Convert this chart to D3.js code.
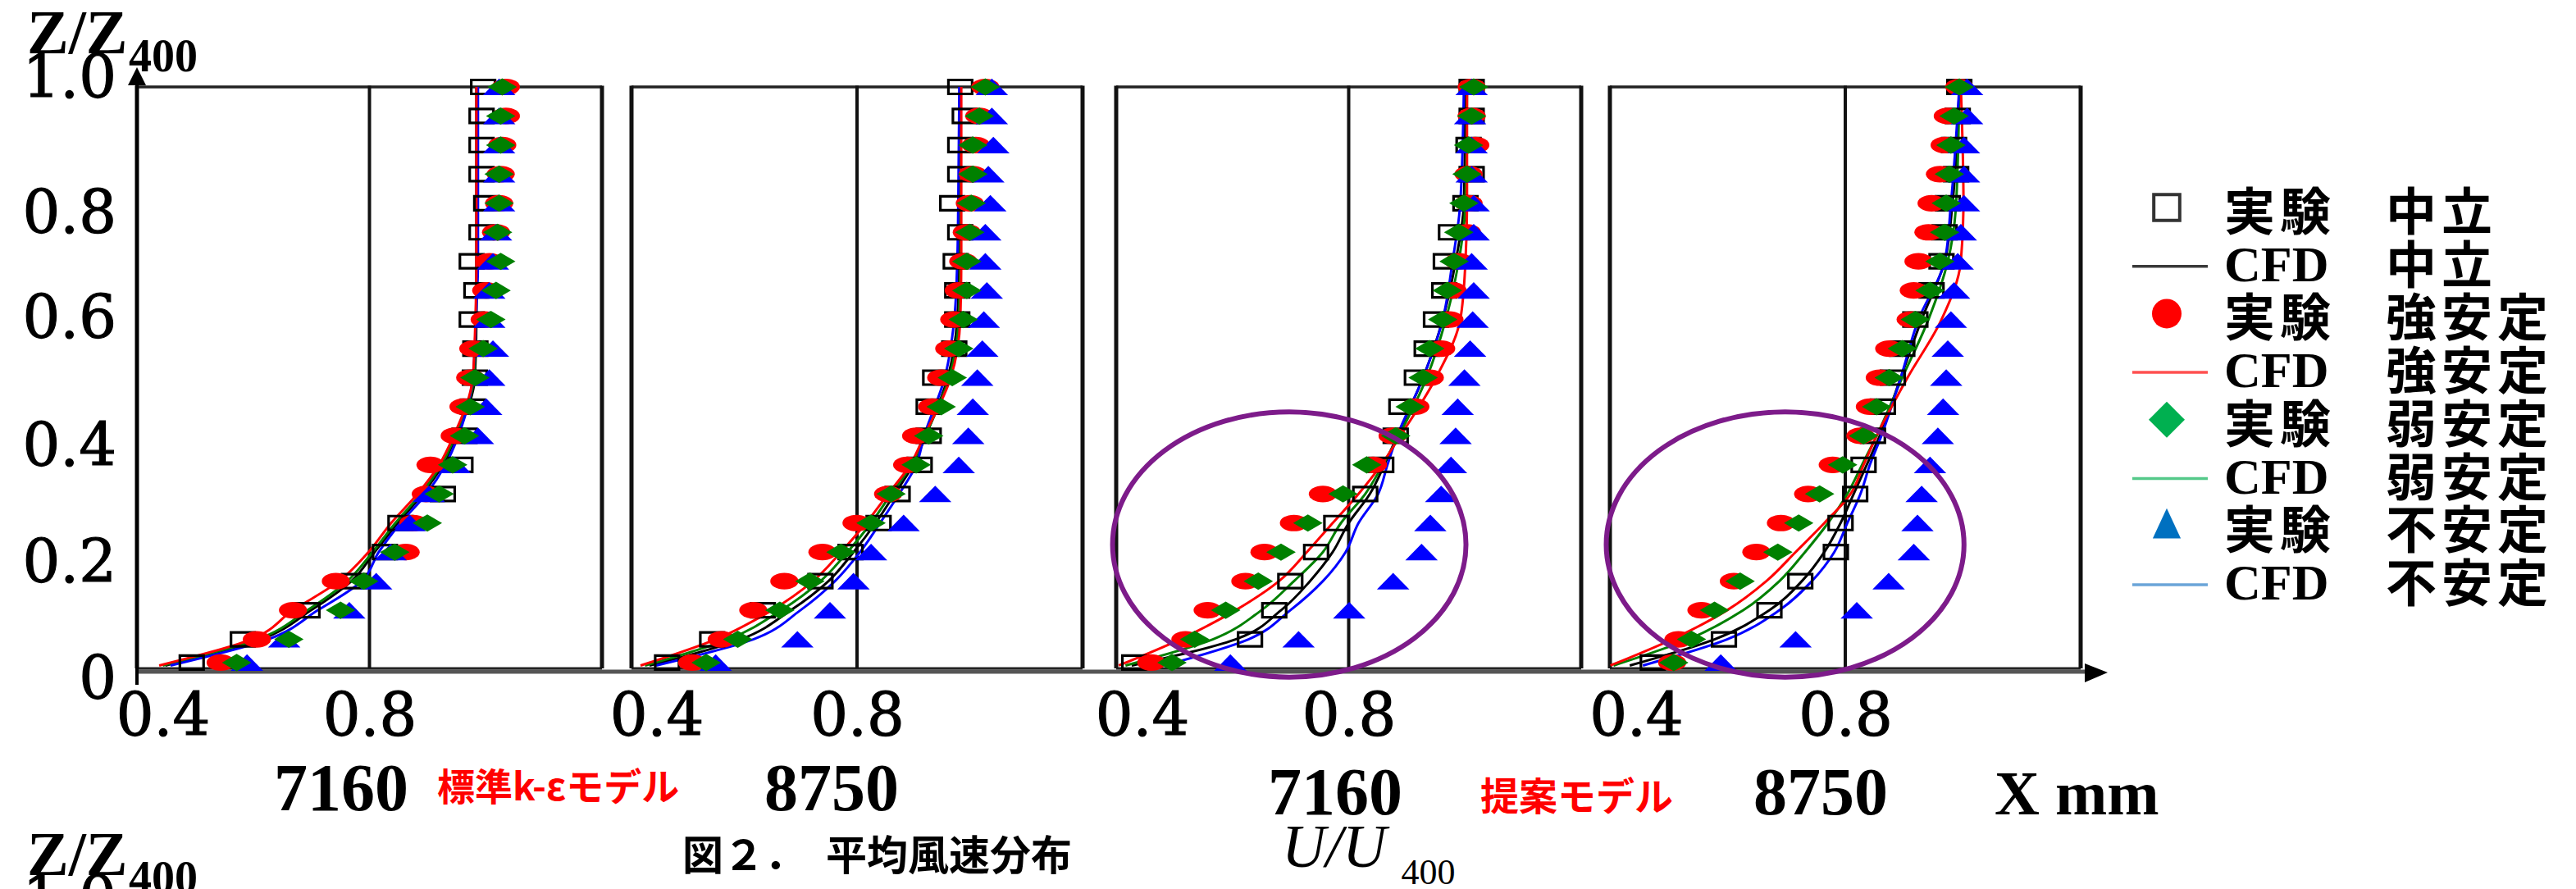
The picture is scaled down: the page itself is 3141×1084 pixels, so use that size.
<!DOCTYPE html>
<html>
<head>
<meta charset="utf-8">
<script src="https://cdn.jsdelivr.net/npm/d3@7"></script>
<style>
  body { margin: 0; background: #fff; }
  svg { display: block; }
  .serif { font-family: "Liberation Serif", "Times New Roman", serif; }
  .num { font-family: "DejaVu Serif", serif; stroke: #000; stroke-width: 1.2px; }
  .cjk { font-family: "Noto Sans CJK JP", sans-serif; font-weight: 700; }
</style>
</head>
<body>
<svg id="chart" width="3141" height="1084"></svg>
<script>
// measurement heights Z/Z400 (experiment rows) and CFD sample heights
const zExp = [1.0, 0.95, 0.9, 0.85, 0.8, 0.75, 0.7, 0.65, 0.6, 0.55, 0.5, 0.45, 0.4, 0.35, 0.3, 0.25, 0.2, 0.15, 0.1, 0.05, 0.01];
const zCfd = [1.0, 0.8, 0.7, 0.6, 0.5, 0.4, 0.35, 0.3, 0.25, 0.2, 0.15, 0.1, 0.05, 0.005];

const panelDistance = ["7160", "8750", "7160", "8750"];
const modelNames = ["標準k-εモデル", "提案モデル"];
const xTicks = [0.4, 0.8];
const yTicks = [0, 0.2, 0.4, 0.6, 0.8, 1.0];

// U/U400, one array per panel (7160 std, 8750 std, 7160 proposed, 8750 proposed)
const expNeutral = [
  [1.020,1.017,1.017,1.017,1.026,1.017,0.998,1.007,0.998,1.005,1.004,1.000,0.984,0.976,0.942,0.860,0.830,0.770,0.680,0.555,0.456],
  [1.006,1.015,1.006,1.006,0.990,1.006,0.997,1.000,1.000,0.994,0.956,0.943,0.943,0.925,0.881,0.843,0.787,0.727,0.612,0.511,0.421],
  [1.038,1.038,1.032,1.038,1.026,0.998,0.988,0.985,0.969,0.951,0.932,0.902,0.891,0.863,0.832,0.776,0.737,0.687,0.656,0.609,0.385],
  [1.018,1.015,1.008,1.012,0.996,0.990,0.984,0.965,0.934,0.909,0.891,0.872,0.853,0.835,0.819,0.791,0.782,0.714,0.655,0.568,0.432]
];
const expStrong = [
  [1.064,1.064,1.057,1.054,1.051,1.045,1.032,1.026,1.023,1.001,0.995,0.982,0.965,0.918,0.909,0.885,0.870,0.735,0.652,0.582,0.512],
  [1.056,1.044,1.037,1.031,1.025,1.019,1.012,1.003,0.994,0.984,0.968,0.950,0.918,0.900,0.862,0.799,0.731,0.655,0.593,0.530,0.471],
  [1.038,1.038,1.045,1.032,1.032,1.029,1.013,1.001,0.995,0.979,0.957,0.929,0.885,0.847,0.750,0.694,0.637,0.600,0.527,0.484,0.418],
  [1.018,0.996,0.990,0.981,0.965,0.959,0.940,0.931,0.925,0.884,0.866,0.847,0.829,0.776,0.729,0.677,0.630,0.587,0.525,0.481,0.469]
];
const expWeak = [
  [1.057,1.054,1.054,1.051,1.051,1.048,1.054,1.045,1.035,1.020,1.004,0.995,0.984,0.961,0.935,0.912,0.849,0.789,0.744,0.644,0.543],
  [1.056,1.044,1.031,1.031,1.028,1.025,1.019,1.019,1.012,1.003,0.990,0.968,0.943,0.918,0.868,0.828,0.768,0.706,0.646,0.562,0.499],
  [1.042,1.038,1.032,1.029,1.023,1.013,1.004,0.991,0.982,0.957,0.944,0.919,0.891,0.835,0.789,0.721,0.669,0.625,0.562,0.502,0.458],
  [1.018,1.008,1.002,0.999,0.993,0.990,0.981,0.962,0.934,0.909,0.884,0.860,0.835,0.795,0.751,0.711,0.671,0.599,0.550,0.506,0.472]
];
const expUnstable = [
  [1.051,1.051,1.051,1.051,1.051,1.045,1.039,1.032,1.032,1.039,1.032,1.026,1.010,0.965,0.915,0.878,0.841,0.813,0.761,0.635,0.563],
  [1.069,1.069,1.072,1.062,1.066,1.056,1.056,1.059,1.053,1.050,1.040,1.031,1.022,1.003,0.956,0.893,0.828,0.793,0.746,0.681,0.518],
  [1.038,1.035,1.038,1.038,1.042,1.042,1.038,1.042,1.040,1.035,1.024,1.011,1.007,0.998,0.979,0.958,0.941,0.886,0.801,0.703,0.571],
  [1.033,1.033,1.027,1.027,1.027,1.021,1.015,1.008,1.002,0.996,0.993,0.987,0.977,0.962,0.946,0.938,0.931,0.883,0.822,0.705,0.562]
];

const cfdNeutral = [
  [1.007,1.007,1.007,1.007,1.004,0.968,0.942,0.903,0.855,0.810,0.765,0.687,0.590,0.405],
  [1.006,1.006,1.004,1.000,0.981,0.937,0.912,0.875,0.837,0.793,0.743,0.668,0.568,0.386],
  [1.026,1.023,1.007,0.982,0.944,0.894,0.869,0.841,0.800,0.769,0.725,0.669,0.581,0.380],
  [1.018,1.005,0.990,0.946,0.906,0.866,0.841,0.816,0.791,0.760,0.717,0.655,0.550,0.388]
];
const cfdStrong = [
  [1.007,1.007,1.007,1.005,1.000,0.963,0.935,0.893,0.842,0.798,0.741,0.652,0.571,0.393],
  [1.008,1.008,1.008,1.006,0.987,0.934,0.906,0.862,0.818,0.768,0.712,0.630,0.518,0.368],
  [1.029,1.029,1.026,1.016,0.969,0.900,0.863,0.819,0.769,0.719,0.665,0.581,0.474,0.355],
  [1.021,1.026,1.021,0.984,0.919,0.860,0.835,0.810,0.760,0.705,0.649,0.574,0.469,0.351]
];
const cfdWeak = [
  [1.008,1.008,1.008,1.006,1.002,0.966,0.939,0.899,0.850,0.806,0.757,0.680,0.583,0.400],
  [1.007,1.007,1.006,1.003,0.984,0.936,0.909,0.868,0.828,0.781,0.727,0.649,0.543,0.377],
  [1.029,1.026,1.013,0.988,0.951,0.897,0.866,0.832,0.785,0.750,0.694,0.631,0.537,0.368],
  [1.018,1.012,0.996,0.959,0.909,0.860,0.832,0.804,0.767,0.723,0.674,0.605,0.500,0.357]
];
const cfdUnstable = [
  [1.010,1.010,1.010,1.006,1.000,0.972,0.947,0.910,0.860,0.818,0.785,0.700,0.604,0.415],
  [1.004,1.002,1.000,0.994,0.975,0.934,0.918,0.884,0.846,0.806,0.756,0.687,0.593,0.399],
  [1.023,1.016,1.001,0.982,0.944,0.894,0.875,0.857,0.819,0.794,0.750,0.687,0.606,0.443],
  [1.018,1.002,0.990,0.940,0.906,0.869,0.847,0.829,0.804,0.779,0.736,0.674,0.574,0.413]
];

// circled region (U/U400 centre, Z centre, half widths) for the proposed-model panels
const circleCentre = [0.685, 0.213];
const circleRadius = [0.342, 0.228];

const legendMethod = ["実験", "CFD", "実験", "CFD", "実験", "CFD", "実験", "CFD"];
const legendCond = ["中立", "中立", "強安定", "強安定", "弱安定", "弱安定", "不安定", "不安定"];

// ---- layout ----
const svg = d3.select("#chart");
const panelBox = [[167, 734], [770, 1320], [1361, 1928], [1963, 2537]];
const panelLabelX = [416, 1014, 1628, 2220];
const plotTop = 106, plotBottom = 815;
const y = d3.scaleLinear().domain([0, 1]).range([plotBottom, plotTop]);

const plotColor = { neutral: "#000", strong: "#ff0000", weak: "#008000", unstable: "#0000ff" };
const stretch = 1.7;  // markers in the figure are stretched sideways

const sym = {
  square: d3.symbol(d3.symbolSquare, 290)(),
  circle: d3.symbol(d3.symbolCircle, 320)(),
  diamond: d3.symbol(d3.symbolDiamond2, 285)(),
  triangle: d3.symbol(d3.symbolTriangle, 235)()
};

// x axis (shared, with arrow)
svg.append("line").attr("x1", 167).attr("x2", 2548).attr("y1", 819).attr("y2", 819)
  .attr("stroke", "#555").attr("stroke-width", 5);
svg.append("path").attr("d", "M2542,809 L2570,820 L2542,832 Z").attr("fill", "#000");

panelBox.forEach((b, i) => {
  const x = d3.scaleLinear().domain([0.35, 1.25]).range(b);
  const g = svg.append("g");

  // frame
  g.append("line").attr("x1", b[0]).attr("x2", b[1]).attr("y1", plotTop).attr("y2", plotTop)
    .attr("stroke", "#222").attr("stroke-width", 3.5);
  g.append("line").attr("x1", b[0]).attr("x2", b[1]).attr("y1", plotBottom).attr("y2", plotBottom)
    .attr("stroke", "#222").attr("stroke-width", 3);
  [b[0], x(0.8), b[1]].forEach((xx, k) => {
    g.append("line").attr("x1", xx).attr("x2", xx).attr("y1", plotTop - 1.5).attr("y2", plotBottom)
      .attr("stroke", "#111").attr("stroke-width", k === 1 ? 4 : 5);
  });

  // CFD lines
  const line = d3.line().x(d => x(d[0])).y(d => y(d[1])).curve(d3.curveMonotoneY);
  [["neutral", cfdNeutral], ["weak", cfdWeak], ["unstable", cfdUnstable], ["strong", cfdStrong]]
    .forEach(([k, arr]) => {
      g.append("path")
        .attr("d", line(arr[i].map((u, j) => [u, zCfd[j]])))
        .attr("fill", "none").attr("stroke", plotColor[k]).attr("stroke-width", 3);
    });

  // experiments
  const drawMarks = (arr, shape, k, hollow) => {
    const dy = shape === "triangle" ? 3.3 : 0;
    g.append("g").selectAll("path")
      .data(arr[i].map((u, j) => [u, zExp[j]]))
      .join("path")
      .attr("d", sym[shape])
      .attr("transform", d => `translate(${x(d[0])},${y(d[1]) + dy}) scale(${stretch},1)`)
      .attr("fill", hollow ? "none" : plotColor[k])
      .attr("stroke", hollow ? plotColor[k] : "none")
      .attr("stroke-width", hollow ? 3.2 : 0)
      .attr("vector-effect", "non-scaling-stroke");
  };
  drawMarks(expNeutral, "square", "neutral", true);
  drawMarks(expStrong, "circle", "strong", false);
  drawMarks(expUnstable, "triangle", "unstable", false);
  drawMarks(expWeak, "diamond", "weak", false);

  // highlighted region in the proposed model panels
  if (i >= 2) {
    const cx = x(circleCentre[0]), cy = y(circleCentre[1]);
    g.append("ellipse")
      .attr("cx", cx).attr("cy", cy)
      .attr("rx", x(circleCentre[0] + circleRadius[0]) - cx)
      .attr("ry", cy - y(circleCentre[1] + circleRadius[1]))
      .attr("fill", "none").attr("stroke", "#7d1b8a").attr("stroke-width", 6);
  }

  // x tick labels
  const ax = g.append("g").attr("transform", "translate(0,846)")
    .call(d3.axisBottom(x).tickValues(xTicks).tickFormat(d3.format(".1f")).tickSize(0).tickPadding(0));
  ax.select(".domain").remove();
  ax.selectAll("text").attr("class", "num").attr("font-size", 72).attr("fill", "#000");

  // distance label
  g.append("text").attr("class", "serif").attr("x", panelLabelX[i]).attr("y", i < 2 ? 988 : 993)
    .attr("text-anchor", "middle").attr("font-size", 82).attr("font-weight", 700)
    .text(panelDistance[i]);
});

// y axis with arrow
svg.append("line").attr("x1", 167).attr("x2", 167).attr("y1", 835).attr("y2", 100)
  .attr("stroke", "#000").attr("stroke-width", 4);
svg.append("path").attr("d", "M156,104 L167,82 L178,104 Z").attr("fill", "#000");
const ay = svg.append("g").attr("transform", "translate(167,0)")
  .call(d3.axisLeft(y).tickValues(yTicks).tickFormat(d => d === 0 ? "0" : d.toFixed(1)).tickSize(0).tickPadding(25));
ay.select(".domain").remove();
ay.selectAll("text").attr("class", "num").attr("font-size", 72).attr("fill", "#000")
  .attr("dy", d => d === 1 ? "0.17em" : (d === 0.6 ? "0.3em" : "0.5em"));

// axis title Z/Z400 (drawn twice, the second copy is cut by the bottom edge)
[0, 1002].forEach(off => {
  const t = svg.append("g").attr("transform", `translate(0,${off})`);
  if (off) {
    t.append("text").attr("class", "num").attr("x", 142).attr("y", 118)
      .attr("text-anchor", "end").attr("font-size", 72).text("1.0");
  }
  t.append("text").attr("class", "serif").attr("x", 33).attr("y", 65)
    .attr("font-size", 76).attr("font-weight", 700).text("Z/Z");
  t.append("text").attr("class", "serif").attr("x", 157).attr("y", 87)
    .attr("font-size", 56).attr("font-weight", 700).text("400");
});

// model labels
svg.append("text").attr("class", "cjk").attr("x", 533).attr("y", 976)
  .attr("font-size", 46).attr("fill", "#ff0000").text(modelNames[0]);
svg.append("text").attr("class", "cjk").attr("x", 1805).attr("y", 988)
  .attr("font-size", 47).attr("fill", "#ff0000").text(modelNames[1]);

svg.append("text").attr("class", "serif").attr("x", 2432).attr("y", 993)
  .attr("font-size", 76).attr("font-weight", 700).text("X mm");

svg.append("text").attr("class", "cjk").attr("x", 832).attr("y", 1061)
  .attr("font-size", 50).attr("fill", "#000").text("図２．　平均風速分布");

const ut = svg.append("text").attr("class", "serif").attr("x", 1563).attr("y", 1057);
ut.append("tspan").attr("font-size", 74).attr("font-style", "italic").text("U/U");
ut.append("tspan").attr("font-size", 44).attr("dx", 18).attr("dy", 21).text("400");

// legend
const legendColor = ["#333", "#3a3a3a", "#ff0000", "#ff5050", "#00b050", "#55c98a", "#0070c0", "#6aa5d8"];
const legendShape = ["square", null, "circle", null, "diamond", null, "triangle", null];
const legendSym = {
  square: d3.symbol(d3.symbolSquare, 1000)(),
  circle: d3.symbol(d3.symbolCircle, 1018)(),
  diamond: d3.symbol(d3.symbolDiamond2, 1234)(),
  triangle: d3.symbol(d3.symbolTriangle, 700)()
};
const lg = svg.append("g");
legendMethod.forEach((m, i) => {
  const ry = 257 + i * 64.7;
  const shape = legendShape[i];
  if (shape) {
    lg.append("path").attr("d", legendSym[shape])
      .attr("transform", `translate(2642,${ry - 4 + (shape === "triangle" ? 3 : 0)})` + (shape === "triangle" ? " scale(0.85,1.05)" : ""))
      .attr("fill", shape === "square" ? "none" : legendColor[i])
      .attr("stroke", shape === "square" ? legendColor[i] : "none")
      .attr("stroke-width", 4);
  } else {
    lg.append("line").attr("x1", 2600).attr("x2", 2692).attr("y1", ry + 3).attr("y2", ry + 3)
      .attr("stroke", legendColor[i]).attr("stroke-width", 3.5);
  }
  if (m === "CFD") {
    lg.append("text").attr("class", "serif").attr("x", 2712).attr("y", ry + 21)
      .attr("font-size", 62).attr("font-weight", 700).text(m);
  } else {
    lg.append("text").attr("class", "cjk").attr("x", 2712).attr("y", ry + 24)
      .attr("font-size", 62).attr("letter-spacing", 6).text(m);
  }
  lg.append("text").attr("class", "cjk").attr("x", 2909).attr("y", ry + 24)
    .attr("font-size", 62).attr("letter-spacing", 6).text(legendCond[i]);
});
</script>
</body>
</html>
